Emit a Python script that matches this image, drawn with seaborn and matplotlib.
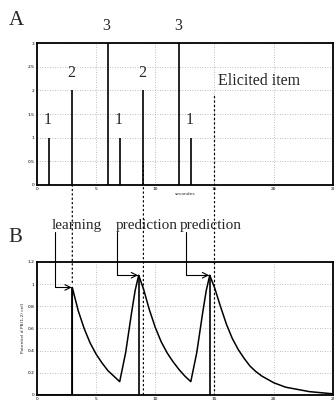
import numpy as np
import pandas as pd
import matplotlib
matplotlib.use("Agg")
import matplotlib.pyplot as plt
import seaborn as sns
from matplotlib.patches import ConnectionPatch

sns.set_style("white")

# ---- Panel A data: elicited items ----
stem_x = [1, 3, 6, 7, 9, 12, 13]
stem_h = [1, 2, 3, 1, 2, 3, 1]
stem_labels = ["1", "2", "3", "1", "2", "3", "1"]

# ---- Panel B data: potential curve ----
curve_x = [0, 3, 3, 3.5, 4, 4.5, 5, 5.5, 6, 6.5, 7, 7.5, 8, 8.3, 8.6,
           9, 9.5, 10, 10.5, 11, 11.5, 12, 12.5, 13, 13.5, 14, 14.3, 14.6,
           15, 15.5, 16, 16.5, 17, 17.5, 18, 18.5, 19, 20, 21, 22, 23, 24, 25]
curve_y = [0, 0, 0.97, 0.76, 0.60, 0.47, 0.37, 0.29, 0.22, 0.17, 0.12, 0.38, 0.74, 0.94, 1.08,
           0.96, 0.77, 0.61, 0.48, 0.38, 0.30, 0.23, 0.17, 0.12, 0.38, 0.74, 0.94, 1.08,
           0.97, 0.80, 0.64, 0.51, 0.41, 0.33, 0.26, 0.21, 0.17, 0.11, 0.07, 0.05, 0.03, 0.02, 0.01]
peak_x = [3, 8.6, 14.6]
peak_y = [0.97, 1.08, 1.08]
arrow_from_x = [1.5, 6.75, 12.6]
arrow_texts = ["learning", "prediction", "prediction"]

# dotted connectors between panels
conn_x = [3, 9, 15]
conn_top_y = [0.0, 0.5, 1.87]

fig = plt.figure(figsize=(3.34, 4.03), dpi=100)
axA = fig.add_axes([0.110, 0.541, 0.887, 0.352])
axB = fig.add_axes([0.110, 0.020, 0.887, 0.330])

serif = "Liberation Serif"
tick_fs = 3.2

for ax in (axA, axB):
    ax.grid(True, linestyle=(0, (1, 2)), color="#a8a8a8", linewidth=0.6)
    for s in ax.spines.values():
        s.set_linewidth(1.3)
        s.set_color("black")
    ax.tick_params(axis="both", labelsize=tick_fs, length=1.5, width=0.5,
                   direction="in", pad=1.5, colors="black")
    ax.set_xlim(0, 25)
    ax.set_xticks([0, 5, 10, 15, 20, 25])

# Panel A
axA.set_ylim(0, 3)
axA.set_yticks([0, 0.5, 1, 1.5, 2, 2.5, 3])
axA.set_yticklabels(["0", "0.5", "1", "1.5", "2", "2.5", "3"])
axA.vlines(stem_x, 0, stem_h, colors="black", linewidth=1.2)
for x, h, lab in zip(stem_x, stem_h, stem_labels):
    axA.text(x - 0.1, h + 0.2, lab, ha="center", va="bottom", fontsize=11.5,
             family=serif, clip_on=False)
axA.text(15.3, 2.2, "Elicited item", ha="left", va="center", fontsize=11.5, family=serif)
axA.set_xlabel("secondes", fontsize=tick_fs, labelpad=1)

# Panel B
df = pd.DataFrame({"t": curve_x, "v": curve_y})
sns.lineplot(data=df, x="t", y="v", ax=axB, color="black", linewidth=1.1,
             sort=False, estimator=None)
axB.vlines(peak_x, 0, peak_y, colors="black", linewidth=1.2)
axB.set_ylim(0, 1.2)
axB.set_yticks([0, 0.2, 0.4, 0.6, 0.8, 1.0, 1.2])
axB.set_yticklabels(["0", "0.2", "0.4", "0.6", "0.8", "1", "1.2"])
axB.set_xlabel("")
axB.set_ylabel("Potentiel d PB(1,2) cell", fontsize=tick_fs, labelpad=2)

text_x = [3.4, 9.3, 14.7]
for ax0, px, py, tx, lab in zip(arrow_from_x, peak_x, peak_y, text_x, arrow_texts):
    axB.annotate("", xy=(px - 0.05, py), xytext=(ax0, 1.47),
                 arrowprops=dict(arrowstyle="->", color="black", lw=0.8,
                                 connectionstyle="angle,angleA=-90,angleB=180,rad=0",
                                 shrinkA=0, shrinkB=0),
                 annotation_clip=False)
    axB.text(tx, 1.47, lab, ha="center", va="bottom", fontsize=11, family=serif,
             clip_on=False)

# Dotted connectors
bottom_y = [1.0, 0.0, 0.0]
for x, ty, by in zip(conn_x, conn_top_y, bottom_y):
    cp = ConnectionPatch(xyA=(x, ty), coordsA="data", axesA=axA,
                         xyB=(x, by), coordsB="data", axesB=axB,
                         linestyle=(0, (1, 2.5)), color="black", linewidth=0.9)
    fig.add_artist(cp)

fig.text(0.025, 0.948, "A", fontsize=15, family=serif, ha="left", va="center")
fig.text(0.025, 0.41, "B", fontsize=15, family=serif, ha="left", va="center")

fig.savefig("out.png", dpi=100)
